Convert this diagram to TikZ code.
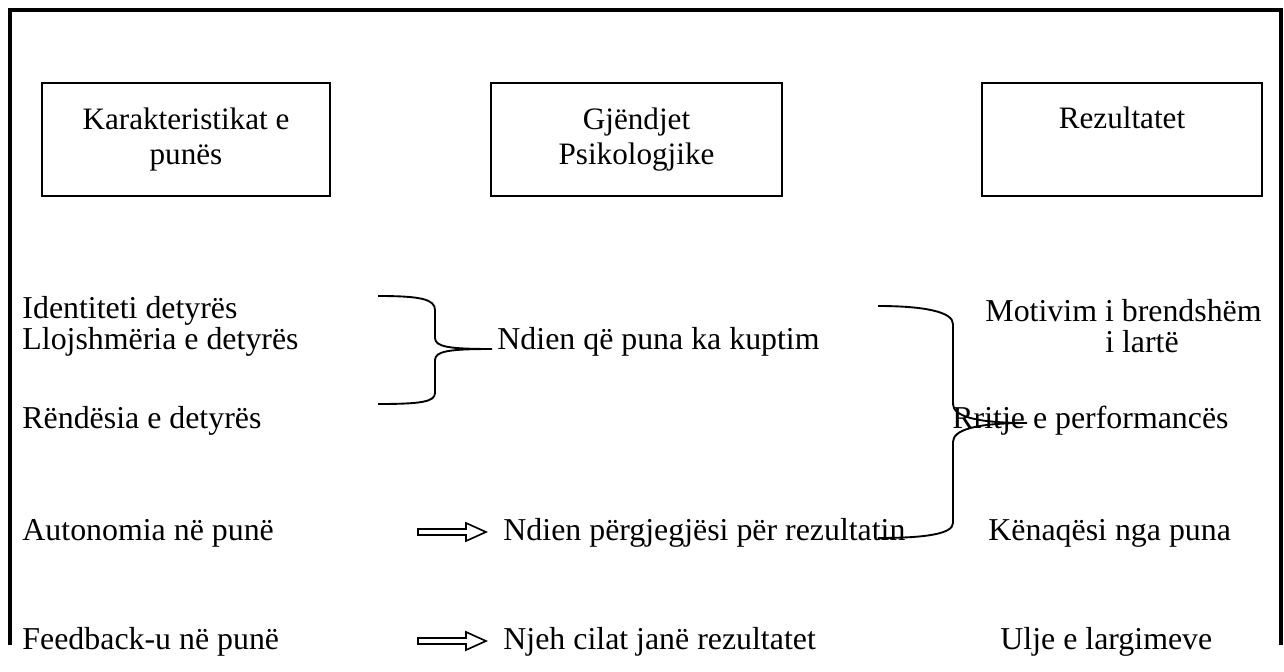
\documentclass[tikz,border=0pt]{standalone}
\usepackage{fontspec}
\setmainfont{Liberation Serif}
\usetikzlibrary{arrows.meta}

\tikzset{
    box/.style={draw, line width=0.9pt, minimum width=#1, minimum height=1.695cm,
                align=center, inner sep=0pt, font=\fontsize{13.3}{15}\selectfont},
    item/.style={inner sep=0pt, anchor=west, font=\fontsize{13.6}{15}\selectfont},
    brace/.style={line width=0.8pt},
    frame/.style={line width=1.3pt},
    blockarrow/.pic={
        \draw[line width=0.7pt] (0,-3) -- (48,-3) -- (48,-9) -- (68,0)
            -- (48,9) -- (48,3) -- (0,3) -- cycle;
    }
}

\begin{document}
\begin{tikzpicture}[x=0.015cm, y=-0.015cm]
        \useasboundingbox (0,0) rectangle (1284,672);
        % korniza
        \draw[frame] (10,645) |- (1281,10) -- (1281,645);

        % kutite e titujve
        \node[box=4.32cm](kar) at (186,139.5) {Karakteristikat e\\punës};
        \node[box=4.365cm](gje) at (636.5,139.5) {Gjëndjet\\Psikologjike};
        \node[box=4.2cm](rez) at (1122,139.5) {Rezultatet\\[4pt]~};

        % karakteristikat
        \node[item](ide) at (22,311) {Identiteti detyrës};
        \node[item](llo) at (22,342) {Llojshmëria e detyrës};
        \node[item](ren) at (22,421) {Rëndësia e detyrës};
        \node[item](aut) at (22,533) {Autonomia në punë};
        \node[item](fee) at (22,642) {Feedback-u në punë};

        % gjendjet
        \node[item](kup) at (497,342) {Ndien që puna ka kuptim};
        \node[item](per) at (503,533) {Ndien përgjegjësi për rezultatin};
        \node[item](njh) at (503,642) {Njeh cilat janë rezultatet};

        % rezultatet
        \node[item](mot) at (985,311) {Motivim i brendshëm};
        \node[item, anchor=center](lar) at (1142,342) {i lartë};
        \node[item](rri) at (952,421) {Rritje e performancës};
        \node[item](ken) at (988,533) {Kënaqësi nga puna};
        \node[item](ulj) at (1000,642) {Ulje e largimeve};

        % shigjetat
        \coordinate (a1) at (418,532);
        \coordinate (b1) at (418,641);
        \pic at (a1) {blockarrow};
        \pic at (b1) {blockarrow};

        % kllapat
        \draw[brace] (378,296) .. controls (420,296) and (435,299) .. (435,310)
            -- (435,338) .. controls (435,347) and (450,349) .. (492,349)
            .. controls (450,349) and (435,351) .. (435,360)
            -- (435,393) .. controls (435,402) and (420,404) .. (378,404);
        \draw[brace] (878,306) .. controls (925,306) and (953,312) .. (953,324)
            -- (953,404) .. controls (953,416) and (975,423) .. (1027,423)
            .. controls (975,423) and (953,430) .. (953,442)
            -- (953,523) .. controls (953,534) and (925,538) .. (878,538);
\end{tikzpicture}
\end{document}
